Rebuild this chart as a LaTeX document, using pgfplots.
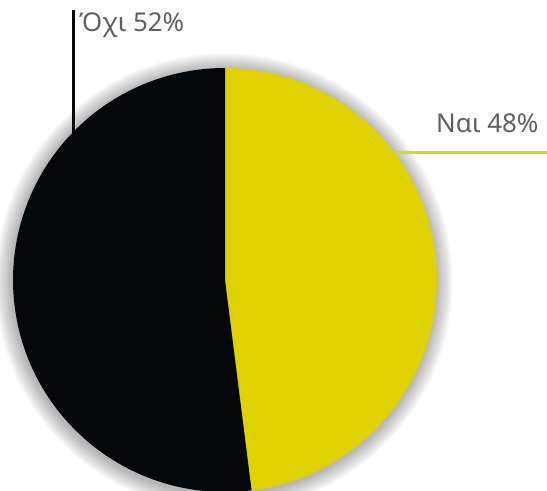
\documentclass[border=0pt]{standalone}
\usepackage{pgfplots}
\pgfplotsset{compat=1.18}
\usepackage{pgfplotstable}
\usepackage{fontspec}
\setmainfont{Noto Sans}

\definecolor{naiyellow}{RGB}{224,210,0}
\definecolor{oxiblack}{RGB}{5,8,10}
\definecolor{labelgray}{RGB}{95,95,95}
\definecolor{lineyellow}{RGB}{214,210,40}

% share of answers, percent
\pgfplotstableread{
label value
Nai 48
Oxi 52
}\piedata

\begin{document}
\begin{tikzpicture}
\pgfplotstablegetelem{0}{value}\of\piedata \let\vnai\pgfplotsretval
\pgfplotstablegetelem{1}{value}\of\piedata \let\voxi\pgfplotsretval
\pgfmathsetmacro{\anai}{90-3.6*\vnai}
\pgfmathsetmacro{\aoxi}{\anai-3.6*\voxi}
\begin{axis}[
hide axis,
scale only axis,
width=547bp, height=491bp,
xmin=0, xmax=547,
ymin=0, ymax=491,
clip=false
]
% soft shadow round the pie
\pgfplotsinvokeforeach{1,...,14}{
  \fill[black, opacity=0.022] (axis cs:224,209) circle[radius={(212+1.2*#1)*1bp}];
}
% slices, clockwise from the top
\fill[naiyellow] (axis cs:225,211) -- ++(90:212bp) arc[start angle=90, end angle=\anai, radius=212bp] -- cycle;
\fill[oxiblack] (axis cs:225,211) -- ++(\anai:212bp) arc[start angle=\anai, end angle=\aoxi, radius=212bp] -- cycle;
% leader lines
\draw[oxiblack, line width=3bp] (axis cs:73,481) -- (axis cs:73,293);
\draw[lineyellow, line width=3bp] (axis cs:395,338) -- (axis cs:547,338);
% labels
\node[anchor=base west, inner sep=0, text=labelgray, font=\fontsize{26}{31}\selectfont] at (axis cs:79,459) {Όχι \voxi\%};
\node[anchor=base west, inner sep=0, text=labelgray, font=\fontsize{26}{31}\selectfont] at (axis cs:436,358) {Ναι \vnai\%};
\end{axis}
\pgfresetboundingbox
\path (current axis.south west) rectangle (current axis.north east);
\end{tikzpicture}
\end{document}
